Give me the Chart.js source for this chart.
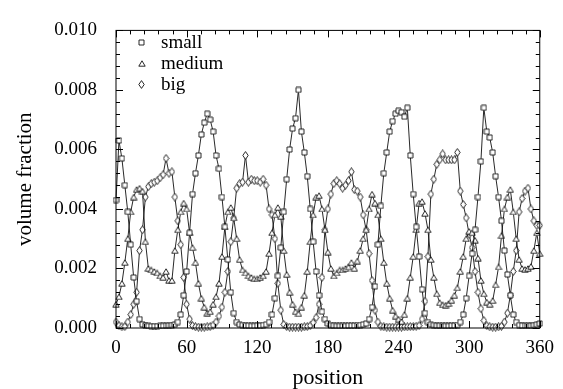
<!DOCTYPE html>
<html><head><meta charset="utf-8">
<script src="https://cdn.jsdelivr.net/npm/chart.js@4"></script>
<style>html,body{margin:0;padding:0;background:#fff}</style>
</head><body>
<canvas id="c" width="563" height="389" style="display:block;width:563px;height:389px"></canvas>
<script>
// grid step of the sampled positions (units of "position")
const STEP = 2.5;
const xTickLabels = ['0','60','120','180','240','300','360'];
const yTickLabels = ['0.000','0.002','0.004','0.006','0.008','0.010'];
const seriesNames = ['small','medium','big'];

const small = [
0.0043,0.0063,0.0057,0.0048,0.0039,0.0028,0.0017,0.0009,0.0003,0.00012,
0.00008,0.00007,0.00006,0.00006,0.00006,0.00007,0.00007,0.00008,0.00009,0.0001,
0.00012,0.0002,0.00045,0.0011,0.0019,0.0032,0.0045,0.0052,0.0058,0.0065,
0.0069,0.0072,0.0070,0.0066,0.0058,0.00535,0.0044,0.0034,0.0023,0.0012,
0.0005,0.0002,0.00012,0.0001,0.00008,0.00008,0.00007,0.00007,0.00008,0.00008,
0.0001,0.00012,0.0002,0.00045,0.0010,0.00175,0.0027,0.0039,0.0050,0.0060,
0.0067,0.00705,0.0080,0.0066,0.0059,0.0051,0.0040,0.0029,0.0019,0.0011,
0.00055,0.0003,0.00015,0.0001,0.00008,0.00007,0.00007,0.00007,0.00007,0.00008,
0.00008,0.00008,0.00009,0.0001,0.00012,0.00015,0.0003,0.0007,0.0014,0.0028,
0.0041,0.0052,0.0059,0.0066,0.00695,0.0072,0.0073,0.00725,0.0071,0.0074,
0.0058,0.0045,0.0034,0.0024,0.0013,0.0005,0.0002,0.00012,0.0001,0.00008,
0.00008,0.00007,0.00007,0.00007,0.00008,0.00008,0.0001,0.0002,0.00045,0.0010,
0.00175,0.0025,0.0033,0.0044,0.0056,0.0074,0.0066,0.0064,0.0059,0.0051,
0.0044,0.0036,0.0026,0.0018,0.0011,0.00045,0.0002,0.0001,0.00008,0.00008,
0.00008,0.00008,0.0001,0.00012,0.00015
];

const medium = [
0.0008,0.00105,0.0015,0.0022,0.0030,0.0039,0.0044,0.00465,0.0047,0.0046,
0.0029,0.0020,0.00195,0.0019,0.00185,0.00175,0.0017,0.0019,0.0016,0.0016,
0.0026,0.0033,0.0039,0.0042,0.0040,0.0032,0.0027,0.0022,0.0015,0.0010,
0.0007,0.0005,0.00055,0.0008,0.00105,0.0015,0.0024,0.0034,0.0039,0.00405,
0.0037,0.0030,0.0023,0.00195,0.00185,0.00175,0.0017,0.00165,0.00165,0.0017,
0.00175,0.0019,0.0025,0.0032,0.0038,0.00405,0.00375,0.0026,0.0018,0.0012,
0.0008,0.00055,0.00048,0.0007,0.0011,0.0019,0.0029,0.0038,0.0044,0.00445,
0.0040,0.0033,0.00255,0.0020,0.00175,0.00185,0.00195,0.00195,0.0020,0.00205,
0.0022,0.0020,0.00225,0.0026,0.0030,0.0033,0.0040,0.0045,0.0042,0.0038,
0.0030,0.0022,0.0015,0.0010,0.0006,0.0004,0.0003,0.00022,0.00045,0.0010,
0.0017,0.0024,0.0033,0.0042,0.00425,0.00385,0.0033,0.0023,0.0017,0.00115,
0.00085,0.00078,0.00077,0.00082,0.00093,0.0011,0.00135,0.0019,0.0024,0.0030,
0.00325,0.0032,0.00295,0.00235,0.0016,0.00115,0.00087,0.0008,0.00092,0.00145,
0.00205,0.0031,0.0040,0.0044,0.00465,0.0039,0.0030,0.0023,0.0020,0.00197,
0.0020,0.00207,0.0026,0.0032,0.0025
];

const big = [
0.0002,0.00008,0.00004,0.00005,0.0002,0.00045,0.0008,0.0012,0.0026,0.0033,
0.0044,0.00475,0.00485,0.0049,0.00495,0.00505,0.00515,0.0057,0.0052,0.00525,
0.0044,0.0036,0.0028,0.0017,0.0008,0.0003,0.00008,0.00004,0.00003,0.00003,
0.00003,0.00004,0.00005,0.0001,0.0002,0.0004,0.0007,0.0012,0.0019,0.0029,
0.0037,0.0047,0.00485,0.0049,0.0058,0.0049,0.0050,0.00495,0.00495,0.0049,
0.0050,0.0048,0.0040,0.0038,0.0030,0.0015,0.0006,0.00012,0.00005,0.00003,
0.00003,0.00003,0.00003,0.00003,0.00004,0.00005,0.00008,0.00018,0.00035,0.0008,
0.0017,0.0033,0.0040,0.0045,0.00485,0.00495,0.00485,0.0047,0.0048,0.00495,
0.00525,0.00465,0.0046,0.0044,0.0038,0.0033,0.0025,0.0016,0.0006,0.0002,
0.00006,0.00004,0.00003,0.00003,0.00003,0.00003,0.00003,0.00003,0.00004,0.00004,
0.00005,0.00005,0.00006,0.00008,0.0003,0.0009,0.0024,0.0045,0.0050,0.0055,
0.00565,0.00585,0.00565,0.00565,0.00565,0.00565,0.0059,0.0046,0.00415,0.0037,
0.00315,0.0027,0.0019,0.0012,0.00065,0.00025,0.00008,0.00004,0.00003,0.00003,
0.00004,0.00006,0.0002,0.0005,0.0011,0.0019,0.0026,0.0039,0.00435,0.0046,
0.0047,0.0040,0.0036,0.00345,0.00345
];

const positions = small.map((_, i) => i * STEP);
const seriesValues = [small, medium, big];

const SERIF = "'Liberation Serif', 'Times New Roman', serif";

function makeMarker(w, h, pathFn) {
  const cv = document.createElement('canvas');
  cv.width = w; cv.height = h;
  const c = cv.getContext('2d');
  c.beginPath(); pathFn(c); c.closePath();
  c.fillStyle = '#fff'; c.fill();
  c.strokeStyle = '#111'; c.lineWidth = 0.9; c.stroke();
  return cv;
}
const squareMark = makeMarker(7, 7, c => { c.rect(1, 1, 5, 5); });
const triMark = makeMarker(8, 7, c => { c.moveTo(4, 0.8); c.lineTo(7.2, 6.2); c.lineTo(0.8, 6.2); });
const diaMark = makeMarker(7, 9, c => { c.moveTo(3.5, 0.6); c.lineTo(6.2, 4.5); c.lineTo(3.5, 8.4); c.lineTo(0.8, 4.5); });
const pointStyles = [squareMark, triMark, diaMark];

const datasets = seriesValues.map((vals, s) => ({
  label: seriesNames[s],
  data: vals.map((v, i) => ({x: positions[i], y: v})),
  borderColor: '#111',
  borderWidth: 0.9,
  pointStyle: pointStyles[s],
  pointRadius: 3.5,
  tension: 0,
  clip: false
}));

const framePlugin = {
  id: 'frame',
  afterDatasetsDraw(chart) {
    const {ctx, chartArea: a, scales: {x, y}} = chart;
    ctx.save();
    ctx.strokeStyle = '#000';
    ctx.lineWidth = 1;
    ctx.strokeRect(a.left, a.top, a.right - a.left, a.bottom - a.top);
    ctx.beginPath();
    for (let k = 0; k <= 30; k++) {
      const px = Math.round(x.getPixelForValue(k * 12)) + 0.5;
      const len = k % 5 === 0 ? 7 : 4;
      ctx.moveTo(px, a.bottom); ctx.lineTo(px, a.bottom - len);
      ctx.moveTo(px, a.top); ctx.lineTo(px, a.top + len);
    }
    for (let k = 0; k <= 25; k++) {
      const py = Math.round(y.getPixelForValue(k * 0.0004)) + 0.5;
      const len = k % 5 === 0 ? 7 : 4;
      ctx.moveTo(a.left, py); ctx.lineTo(a.left + len, py);
      ctx.moveTo(a.right, py); ctx.lineTo(a.right - len, py);
    }
    ctx.stroke();
    // legend
    ctx.font = '19px ' + SERIF;
    ctx.textBaseline = 'alphabetic';
    const rows = [42, 63.5, 84];
    chart.data.datasets.forEach((ds, i) => {
      const m = ds.pointStyle;
      ctx.drawImage(m, Math.round(141.5 - m.width / 2), Math.round(rows[i] - m.height / 2));
      ctx.fillStyle = '#000';
      ctx.fillText(ds.label, 161, rows[i] + 5.5);
    });
    ctx.restore();
  }
};

new Chart(document.getElementById('c'), {
  type: 'line',
  data: {datasets},
  options: {
    responsive: false,
    animation: false,
    devicePixelRatio: 1,
    layout: {padding: {top: 16, right: 21, left: 0, bottom: 0}},
    plugins: {legend: {display: false}, tooltip: {enabled: false}},
    scales: {
      x: {
        type: 'linear', min: 0, max: 360, position: 'bottom',
        afterFit: s => { s.height = 61; },
        grid: {display: false, drawTicks: false},
        border: {display: false},
        ticks: {
          stepSize: 60, autoSkip: false, maxRotation: 0, padding: 9,
          color: '#000', font: {family: SERIF, size: 19},
          callback: (v, i) => xTickLabels[i]
        },
        title: {display: true, text: 'position', color: '#000',
          font: {family: SERIF, size: 22, lineHeight: 1}, padding: {top: 0, bottom: 0}}
      },
      y: {
        type: 'linear', min: 0, max: 0.01, position: 'left',
        afterFit: s => { s.width = 116; },
        grid: {display: false, drawTicks: false},
        border: {display: false},
        ticks: {
          stepSize: 0.002, autoSkip: false, padding: 19,
          color: '#000', font: {family: SERIF, size: 19},
          callback: (v, i) => yTickLabels[i]
        },
        title: {display: true, text: 'volume fraction', color: '#000',
          font: {family: SERIF, size: 21, lineHeight: 1.2}, padding: {top: 13, bottom: 0}}
      }
    }
  },
  plugins: [framePlugin]
});
</script>
</body></html>
